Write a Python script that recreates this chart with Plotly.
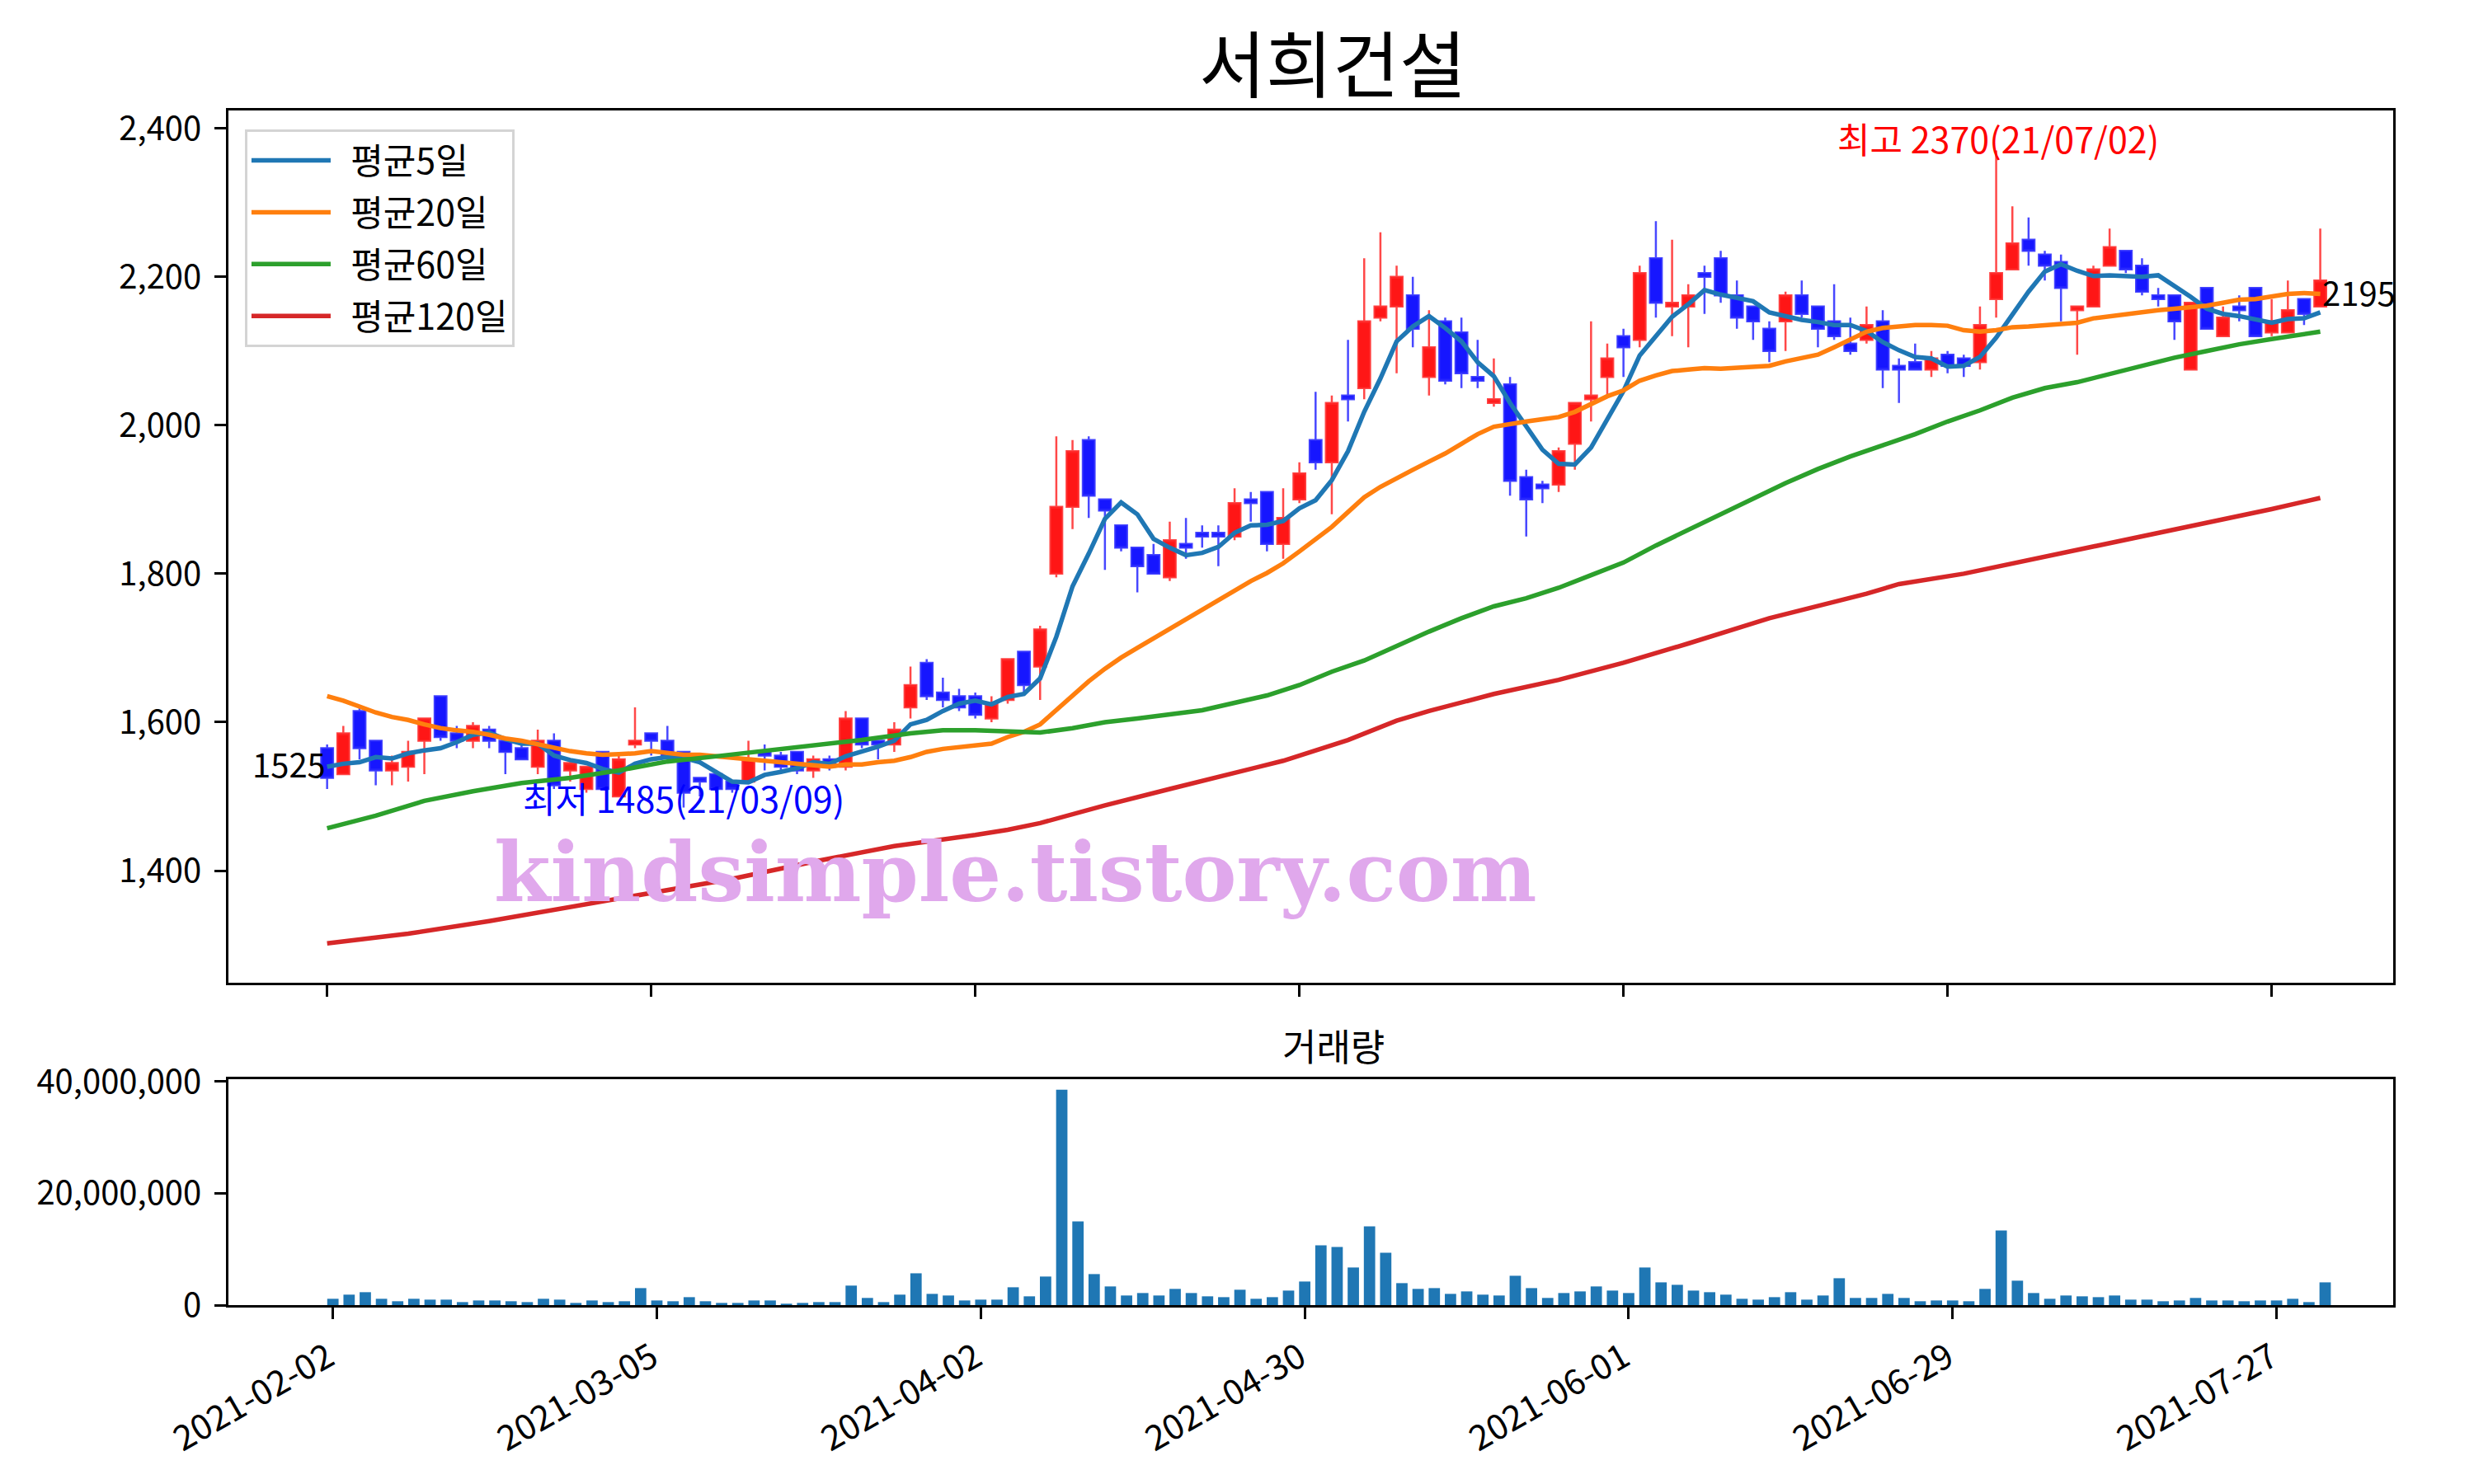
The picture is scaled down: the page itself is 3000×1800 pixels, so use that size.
import plotly.graph_objects as go

# ---------------- data ----------------
tick_idx = [0, 20, 40, 60, 80, 100, 120]
tick_text = ['2021-02-02', '2021-03-05', '2021-04-02', '2021-04-30',
             '2021-06-01', '2021-06-29', '2021-07-27']

opens = [1565, 1530, 1615, 1575, 1535, 1540, 1575, 1635, 1585, 1575,
         1590, 1575, 1565, 1540, 1575, 1535, 1510, 1560, 1500, 1570,
         1585, 1575, 1560, 1525, 1530, 1520, 1520, 1560, 1555, 1560,
         1535, 1550, 1540, 1605, 1575, 1570, 1620, 1680, 1640, 1635,
         1635, 1605, 1630, 1695, 1675, 1800, 1890, 1980, 1900, 1865,
         1835, 1825, 1795, 1840, 1855, 1855, 1850, 1900, 1910, 1840,
         1900, 1980, 1950, 2040, 2050, 2145, 2160, 2175, 2065, 2140,
         2125, 2065, 2030, 2055, 1930, 1920, 1920, 1975, 2035, 2065,
         2120, 2115, 2225, 2160, 2160, 2205, 2225, 2175, 2160, 2130,
         2140, 2175, 2160, 2140, 2110, 2115, 2140, 2080, 2085, 2075,
         2095, 2090, 2085, 2170, 2210, 2250, 2230, 2220, 2155, 2160,
         2215, 2235, 2215, 2175, 2175, 2075, 2185, 2120, 2160, 2185,
         2125, 2125, 2170, 2160]
highs = [1570, 1595, 1620, 1575, 1555, 1575, 1605, 1635, 1595, 1600,
         1595, 1575, 1570, 1590, 1585, 1550, 1540, 1560, 1555, 1620,
         1585, 1595, 1560, 1525, 1530, 1520, 1575, 1570, 1560, 1560,
         1555, 1555, 1615, 1605, 1575, 1600, 1675, 1685, 1660, 1645,
         1640, 1635, 1685, 1695, 1730, 1985, 1980, 1985, 1900, 1865,
         1835, 1840, 1870, 1875, 1865, 1865, 1915, 1910, 1910, 1915,
         1950, 2045, 2040, 2115, 2225, 2260, 2215, 2200, 2155, 2145,
         2145, 2115, 2090, 2065, 1940, 1925, 1970, 2030, 2140, 2110,
         2130, 2215, 2275, 2250, 2190, 2215, 2235, 2195, 2160, 2140,
         2180, 2195, 2160, 2190, 2145, 2160, 2155, 2090, 2110, 2100,
         2100, 2095, 2160, 2370, 2295, 2280, 2235, 2230, 2160, 2215,
         2265, 2235, 2225, 2185, 2175, 2165, 2185, 2160, 2175, 2185,
         2170, 2195, 2170, 2265]
lows = [1510, 1530, 1550, 1515, 1515, 1520, 1530, 1575, 1565, 1565,
        1565, 1530, 1550, 1530, 1510, 1520, 1505, 1510, 1500, 1565,
        1555, 1555, 1485, 1500, 1505, 1505, 1520, 1535, 1535, 1530,
        1525, 1535, 1535, 1565, 1550, 1560, 1605, 1630, 1620, 1615,
        1605, 1600, 1625, 1640, 1630, 1795, 1860, 1875, 1805, 1830,
        1775, 1800, 1790, 1820, 1835, 1810, 1845, 1870, 1830, 1820,
        1895, 1940, 1880, 2005, 2035, 2140, 2070, 2105, 2040, 2055,
        2050, 2050, 2025, 1905, 1850, 1895, 1910, 1940, 2005, 2040,
        2065, 2105, 2145, 2120, 2105, 2150, 2165, 2130, 2115, 2085,
        2100, 2145, 2105, 2115, 2095, 2110, 2050, 2030, 2075, 2065,
        2070, 2065, 2075, 2145, 2210, 2215, 2195, 2140, 2095, 2160,
        2215, 2205, 2175, 2160, 2115, 2075, 2130, 2120, 2140, 2120,
        2120, 2125, 2135, 2160]
closes = [1525, 1585, 1565, 1535, 1545, 1560, 1605, 1580, 1575, 1595,
          1575, 1560, 1550, 1575, 1515, 1545, 1540, 1510, 1550, 1575,
          1575, 1555, 1505, 1520, 1510, 1510, 1550, 1555, 1540, 1535,
          1550, 1540, 1605, 1570, 1570, 1590, 1650, 1635, 1630, 1620,
          1610, 1625, 1685, 1650, 1725, 1890, 1965, 1905, 1885, 1835,
          1810, 1800, 1845, 1835, 1850, 1850, 1895, 1895, 1840, 1875,
          1935, 1950, 2030, 2035, 2140, 2160, 2200, 2130, 2105, 2060,
          2070, 2060, 2035, 1925, 1900, 1915, 1965, 2030, 2040, 2090,
          2105, 2205, 2165, 2165, 2175, 2200, 2175, 2145, 2140, 2100,
          2175, 2150, 2130, 2120, 2100, 2135, 2075, 2075, 2075, 2090,
          2080, 2080, 2135, 2205, 2245, 2235, 2215, 2185, 2160, 2210,
          2240, 2210, 2180, 2170, 2140, 2165, 2130, 2145, 2155, 2120,
          2140, 2155, 2150, 2195]
volumes = [1130000, 1870000, 2310000, 1130000, 690000, 1130000, 980000, 980000, 540000, 830000,
           830000, 690000, 540000, 1130000, 980000, 390000, 830000, 540000, 690000, 3040000,
           830000, 690000, 1420000, 690000, 390000, 390000, 830000, 830000, 250000, 390000,
           540000, 540000, 3490000, 1280000, 540000, 1870000, 5690000, 2010000, 1720000, 830000,
           980000, 980000, 3190000, 1570000, 5110000, 38540000, 14970000, 5550000, 3340000, 1720000,
           2160000, 1720000, 2900000, 2160000, 1570000, 1420000, 2750000, 1130000, 1420000, 2600000,
           4220000, 10700000, 10410000, 6730000, 14090000, 9380000, 3930000, 2900000, 3040000, 2010000,
           2450000, 1870000, 1720000, 5250000, 3040000, 1280000, 2160000, 2450000, 3340000, 2600000,
           2160000, 6730000, 4070000, 3630000, 2600000, 2310000, 1870000, 1130000, 980000, 1420000,
           2310000, 980000, 1720000, 4810000, 1280000, 1280000, 2010000, 1280000, 690000, 830000,
           830000, 690000, 2900000, 13350000, 4370000, 2160000, 1130000, 1720000, 1570000, 1420000,
           1720000, 980000, 980000, 690000, 830000, 1280000, 830000, 830000, 690000, 830000,
           830000, 1130000, 540000, 4070000]

ma5 = [1540, 1544, 1546, 1553, 1551, 1558, 1562, 1565, 1573, 1583,
       1586, 1577, 1571, 1571, 1555, 1549, 1545, 1537, 1532, 1544,
       1550, 1553, 1552, 1546, 1533, 1520, 1519, 1529, 1533, 1538,
       1546, 1544, 1554, 1560, 1567, 1575, 1597, 1603, 1615, 1625,
       1629, 1624, 1634, 1638, 1659, 1715, 1783, 1827, 1874, 1896,
       1880, 1847, 1835, 1825, 1828, 1836, 1855, 1865, 1866, 1871,
       1888, 1899, 1926, 1965, 2018, 2063, 2113, 2133, 2147, 2131,
       2113, 2085, 2066, 2030, 1998, 1967, 1948, 1947, 1970, 2008,
       2046, 2094, 2121, 2146, 2163, 2182, 2176, 2172, 2167, 2152,
       2147, 2142, 2139, 2135, 2135, 2127, 2112, 2101, 2092, 2090,
       2079, 2080, 2092, 2118, 2149, 2180, 2207, 2217, 2208, 2201,
       2202, 2201, 2200, 2202, 2188, 2173, 2157, 2150, 2147, 2143,
       2138, 2143, 2144, 2152]
ma20 = [1635, 1629, 1621, 1613, 1607, 1603, 1597, 1592, 1589, 1587,
        1583, 1578, 1575, 1570, 1565, 1561, 1558, 1556, 1557, 1558,
        1561, 1559, 1556, 1556, 1554, 1551, 1549, 1547, 1546, 1543,
        1541, 1540, 1543, 1543, 1546, 1548, 1553, 1560, 1564, 1566,
        1568, 1571, 1580, 1587, 1597, 1616, 1637, 1655, 1672, 1687,
        1700, 1713, 1725, 1738, 1752, 1765, 1777, 1790, 1801, 1814,
        1830, 1846, 1863, 1883, 1903, 1917, 1929, 1940, 1951, 1962,
        1975, 1988, 1998, 2002, 2005, 2008, 2011, 2018, 2028, 2039,
        2047, 2060, 2067, 2073, 2075, 2077, 2076, 2077, 2078, 2080,
        2086, 2090, 2095, 2105, 2115, 2126, 2131, 2133, 2135, 2135,
        2134, 2128, 2126, 2128, 2132, 2133, 2135, 2137, 2138, 2144,
        2147, 2150, 2153, 2155, 2157, 2159, 2161, 2165, 2169, 2170,
        2173, 2177, 2178, 2177]
ma60_idx = [0, 3, 6, 9, 12, 15, 18, 21, 24, 27, 30, 33, 36, 38, 40, 42, 44, 46, 48, 50,
            52, 54, 56, 58, 60, 62, 64, 66, 68, 70, 72, 74, 76, 78, 80, 82, 84, 86, 88, 90,
            92, 94, 96, 98, 100, 102, 104, 106, 108, 110, 112, 114, 116, 118, 120, 122, 123]
ma60 = [1457, 1474, 1494, 1507, 1518, 1525, 1535, 1547, 1554, 1561, 1568, 1576, 1585, 1589, 1589,
        1587, 1586, 1592, 1600, 1605, 1611, 1616, 1626, 1636, 1650, 1668, 1683, 1703, 1722, 1740,
        1756, 1767, 1781, 1798, 1815, 1838, 1859, 1880, 1900, 1922, 1941, 1958, 1973, 1988, 2005,
        2020, 2037, 2050, 2058, 2069, 2081, 2091, 2100, 2109, 2116, 2122, 2126]
ma120_idx = [0, 5, 10, 15, 20, 25, 30, 35, 40, 42, 44, 48, 52, 56, 59, 63, 66, 68, 72, 76,
             80, 84, 89, 95, 97, 101, 105, 109, 113, 117, 120, 123]
ma120 = [1302, 1315, 1332, 1351, 1370, 1389, 1412, 1433, 1448, 1455, 1464, 1488, 1510, 1531,
         1548, 1576, 1602, 1615, 1638, 1657, 1680, 1706, 1740, 1773, 1786, 1800, 1818, 1836,
         1855, 1873, 1887, 1902]

price_ticks = [1400, 1600, 1800, 2000, 2200, 2400]
volume_ticks = [0, 20000000, 40000000]

idx = list(range(len(closes)))

FONT = 'Noto Sans CJK KR'
PAD = '\u00a0\u00a0'

fig = go.Figure()
fig.add_trace(go.Candlestick(
    x=idx, open=opens, high=highs, low=lows, close=closes,
    increasing=dict(fillcolor='rgb(255,22,22)', line=dict(color='rgba(255,40,40,0.85)', width=2.5)),
    decreasing=dict(fillcolor='rgb(22,22,255)', line=dict(color='rgba(40,40,255,0.85)', width=2.5)),
    whiskerwidth=0, showlegend=False, xaxis='x', yaxis='y', hoverinfo='skip'))

for name, xs, ys, color in [('평균5일', idx, ma5, '#1f77b4'),
                            ('평균20일', idx, ma20, '#ff7f0e'),
                            ('평균60일', ma60_idx, ma60, '#2ca02c'),
                            ('평균120일', ma120_idx, ma120, '#d62728')]:
    fig.add_trace(go.Scatter(x=xs, y=ys, mode='lines', name=PAD + name, legendgroup=name,
                             line=dict(color=color, width=5.5), xaxis='x', yaxis='y'))

fig.add_trace(go.Bar(x=idx, y=volumes, width=0.7, marker=dict(color='#1f77b4', line=dict(width=0)),
                     showlegend=False, xaxis='x2', yaxis='y2'))

axis_common = dict(showline=True, mirror=True, linecolor='black', linewidth=2.5,
                   ticks='outside', ticklen=14, tickwidth=2.5, tickcolor='black',
                   showgrid=False, zeroline=False)
yfont = dict(size=40, family=FONT, color='black')

fig.update_layout(
    width=3000, height=1800,
    margin=dict(l=277, r=98, t=134, b=217),
    paper_bgcolor='white', plot_bgcolor='white',
    font=dict(family=FONT, size=40, color='black'),
    title=dict(text='서희건설', x=1616 / 3000, xanchor='center', y=1 - 80 / 1800, yanchor='middle',
               font=dict(size=88, family=FONT, color='black')),
    boxgap=0.27, boxgroupgap=0,
    showlegend=True,
    legend=dict(x=0.0076, y=0.9841, xanchor='left', yanchor='top', bgcolor='white',
                bordercolor='#d4d4d4', borderwidth=3, font=dict(size=43, family=FONT),
                tracegroupgap=4, itemwidth=96),
    xaxis=dict(domain=[0, 1], range=[-6.09, 127.5], tickvals=tick_idx, showticklabels=False,
               anchor='y', rangeslider=dict(visible=False), **axis_common),
    yaxis=dict(domain=[0.26984, 1], range=[1249, 2424], tickvals=price_ticks, tickformat=',d',
               anchor='x', tickfont=yfont, ticklabelstandoff=8, **axis_common),
    xaxis2=dict(domain=[0, 1], range=[-6.45, 127.2], tickvals=tick_idx, ticktext=tick_text,
                tickangle=-30, anchor='y2', tickfont=dict(size=42, family=FONT, color='black'),
                ticklabelstandoff=6, ticklabelshift=-6, **axis_common),
    yaxis2=dict(domain=[0, 0.18944], range=[0, 40500000], tickvals=volume_ticks, tickformat=',d',
                anchor='x2', tickfont=yfont, ticklabelstandoff=8, **axis_common),
)

annotations = [
    dict(text='최고 2370(21/07/02)', x=103.1, y=2387, xref='x', yref='y', xanchor='center', yanchor='middle',
         showarrow=False, font=dict(size=43, color='red', family=FONT)),
    dict(text='최저 1485(21/03/09)', x=22, y=1499, xref='x', yref='y', xanchor='center', yanchor='middle',
         showarrow=False, font=dict(size=43, color='blue', family=FONT)),
    dict(text='1525', x=0, y=1544, xref='x', yref='y', xanchor='right', yanchor='middle',
         showarrow=False, font=dict(size=40, color='black', family=FONT)),
    dict(text='2195', x=123.0, y=2180, xref='x', yref='y', xanchor='left', yanchor='middle',
         showarrow=False, font=dict(size=40, color='black', family=FONT)),
    dict(text='거래량', x=(1617 - 277) / 2625, y=(1583 - 1267) / 1449, xref='paper', yref='paper',
         xanchor='center', yanchor='middle', showarrow=False, font=dict(size=45, color='black', family=FONT)),
    dict(text='<b>kindsimple.tistory.com</b>', x=(1231 - 277) / 2625, y=(1583 - 1058) / 1449,
         xref='paper', yref='paper', xanchor='center', yanchor='middle', showarrow=False,
         font=dict(size=99, color='rgb(224,168,236)', family='DejaVu Serif')),
]
fig.update_layout(annotations=annotations)

fig.write_html('out.html', config={'displayModeBar': False},
               post_script="document.body.style.margin='0px';")
